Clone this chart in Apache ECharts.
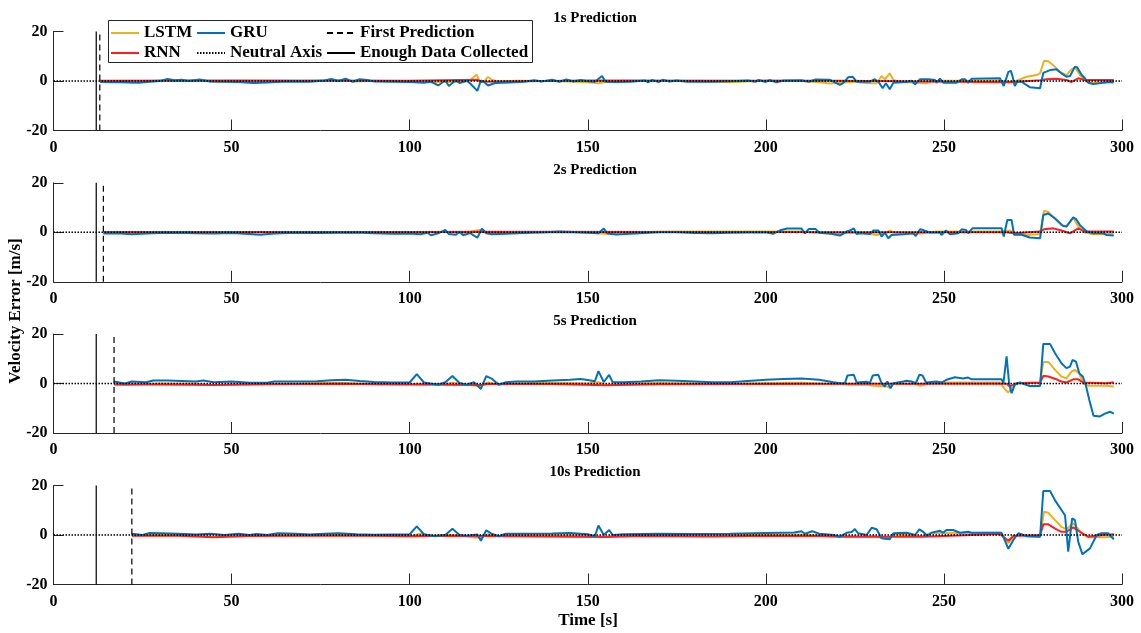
<!DOCTYPE html>
<html><head><meta charset="utf-8">
<script src="https://cdn.jsdelivr.net/npm/echarts@6/dist/echarts.min.js"></script>
<style>html,body{margin:0;padding:0;background:#fff}#c{width:1141px;height:633px}</style>
</head><body><div id="c"></div>
<script>
// ---------- DATA ----------
const panelTitles = ['1s Prediction','2s Prediction','5s Prediction','10s Prediction'];
const xTicks = [0,50,100,150,200,250,300];
const yTicks = [-20,0,20];
const enoughDataTime = 12;
const firstPredictionTimes = [13,14,17,22];

// Panel 1 (1s)
const lstm1 = [[13,-0.2],[18,-0.3],[22,-0.8],[25,-0.2],[30,0.2],[35,0],[40,0.3],[45,-0.3],[50,-0.2],[55,-0.4],[60,-0.2],[70,0],[80,0.3],[85,-0.2],[90,0.1],[100,-0.2],[105,-0.4],[110,-0.3],[115,-0.5],[117,0.3],[118.8,2.6],[119.8,-0.5],[121,0],[122,1.6],[123,0.5],[125,-0.2],[130,0.1],[140,0],[150,-0.5],[153,-0.9],[155,-0.4],[160,0.1],[170,0],[180,-0.1],[190,-0.5],[200,0.2],[210,0],[215,-0.5],[218,-1.0],
 [220.8,-0.7],[224.5,-0.3],[228.8,-0.9],[231.1,-0.9],[232.5,2.0],[233.4,0.7],[234.8,3.1],[235.8,0.4],[237.6,-0.3],[242.3,-0.7],[245.1,-0.9],[246.1,-0.3],[248.9,0.1],[265.7,0.1],[268.5,-0.3],[270.4,0.1],[273.2,1.7],[276,2.4],[277,3.1],[278.1,8.2],[279.3,8.0],[280.7,6.4],[282.6,3.7],[284.4,2.4],[285.8,4.7],[286.8,5.5],[288.2,2.4],[290.1,-0.3],[291.9,-0.7],[295.7,-0.3],[297.7,-0.9]];
const rnn1 = [[13,0.1],[50,0.2],[100,0.1],[119,0.5],[120,-0.3],[150,0.2],[200,0.1],[220.8,0.1],[268.5,-0.5],[277,0.3],[278.8,0.7],[281.6,0.9],[284.4,0.4],[285.8,-0.4],[287.7,1.1],[289.6,0.4],[297.7,0.4]];
const gru1 = [[13,-0.3],[16,-0.5],[20,-0.4],[24,-0.7],[27,-0.3],[30,0],[32,0.8],[34,0.3],[36,0.5],[38,0],[41,0.6],[44,-0.2],[48,-0.3],[52,-0.4],[56,-0.8],[60,-0.6],[64,-0.3],[68,-0.2],[72,-0.3],[76,0.2],[78,0.8],[80,0],[82,0.9],[84,-0.3],[86,0.7],[88,0.4],[90,-0.2],[95,-0.3],[100,-0.4],[104,-0.7],[106,-0.3],[108,-1.8],[110,0.2],[111,-2],[113,0.3],[114,-0.8],[116,0.2],[117,-1],[119,-4.0],[120,0.2],[121,-0.5],[122,-1.8],[124,-0.8],[128,-0.6],[132,-0.3],[135,0.3],[137,-0.2],[140,0.5],[142,-0.3],[144,0.6],[146,-0.2],[148,0.4],[150,-0.1],[152,-0.3],[154,2.0],[155,-0.3],[158,-0.4],[162,-0.3],[166,0.2],[167,-0.5],[168,0.4],[170,-0.4],[171,0.5],[173,-0.2],[175,0.2],[178,-0.3],[185,-0.3],[190,-0.1],[195,0.2],[197,-0.3],[198,0.4],[200,-0.4],[201,0.4],[203,-0.5],[205,0.2],[210,0.3],[212,-0.3],[214,0.6],[218,0.5],
 [220.8,-1.6],[221.7,-0.9],[223.1,1.5],[224.4,1.7],[225.5,-0.3],[229.2,-0.3],[230.6,0.7],[231.6,-0.3],[232.8,-2.9],[233.7,-0.9],[234.8,-3.3],[235.8,-0.7],[239.5,-0.4],[240.9,0.1],[241.9,-1.3],[243.3,0.7],[245.6,0.7],[247.5,0.4],[247.9,-0.7],[248.9,1.0],[249.8,-0.7],[253.6,-0.7],[255,0.7],[255.9,0.7],[256.8,-0.7],[257.8,0.9],[265.7,1.1],[266.2,0.4],[266.8,-2.0],[268.1,3.7],[268.8,4.1],[269.3,1.7],[269.9,-2.0],[270.6,-0.3],[271.8,-0.3],[274.1,-2.5],[277,-2.9],[277.9,3.3],[279.8,4.4],[281.6,4.7],[283,3.1],[284.4,1.7],[285.4,2.0],[286.8,5.8],[287.4,5.5],[288.7,2.4],[289.6,1.1],[290.5,-0.7],[291.9,-1.2],[294.7,-0.7],[297.7,-0.3]];

// Panel 2 (2s)
const lstm2 = [[14,-0.2],[30,0],[60,-0.1],[100,-0.2],[110,0.2],[115,-0.3],[120,1.0],[121.5,-0.5],[124,-0.3],[130,0],[150,-0.2],[155,-0.6],[158,-0.3],[170,0.2],[200,0.3],[210,0.3],[218,-0.6],
 [220.8,-0.7],[223.6,-0.1],[228.3,-0.4],[231.1,-1.1],[233.9,-0.1],[234.8,0.7],[236.2,-0.1],[241.4,-0.7],[244.2,-0.4],[248,0.3],[265.7,0.3],[268.5,0.7],[269.9,-0.1],[273.2,-1.1],[277,-0.7],[278.1,8.7],[279.3,8.2],[281.2,5.6],[283,2.9],[284.4,2.5],[286.3,5.8],[287.7,2.5],[289.6,-0.1],[291.9,-0.8],[295.7,-0.7],[297.7,-0.4]];
const rnn2 = [[14,0.1],[100,0.1],[120,0.2],[200,0.1],[220.8,0],[267.6,0],[269.5,-0.4],[277,0.3],[278.1,1.2],[280.7,1.6],[283,0.7],[285.4,-0.4],[287.7,1.6],[289.6,0.3],[297.7,0.3]];
const gru2 = [[14,-0.5],[18,-0.4],[22,-0.8],[26,-0.5],[30,-0.3],[35,-0.2],[40,-0.4],[45,-0.5],[50,-0.3],[55,-0.7],[58,-1.0],[62,-0.5],[66,-0.3],[70,-0.2],[75,-0.3],[80,-0.2],[85,-0.1],[90,-0.4],[95,-0.6],[100,-0.5],[103,-0.8],[105,-0.2],[106,-1.2],[108,-0.4],[110,1.0],[111,-0.7],[113,-1.0],[114,0.2],[115,-1.2],[117,-0.3],[119,-2.2],[120.3,1.5],[121.5,-0.3],[123,-0.8],[127,-0.6],[132,-0.3],[138,0],[142,0.3],[146,0.1],[150,-0.2],[153,-0.4],[154.5,1.5],[155.5,-0.5],[158,-0.9],[162,-0.6],[166,-0.3],[170,0],[175,0],[180,-0.3],[185,-0.4],[190,-0.2],[195,-0.1],[200,0],[202,-0.6],[204,0.8],[206,1.5],[210,1.5],[211,-0.4],[212,1.3],[214,1.3],[215,-0.2],[218,-0.5],
 [220.8,-1.3],[222.7,0.3],[223.6,0.7],[224.7,1.6],[225.5,-0.7],[226.4,-0.4],[229.2,-0.7],[230.2,0.7],[231.6,0.7],[232.5,-1.7],[233.4,-0.1],[234.4,-2.4],[235.3,-1.1],[238.6,-0.8],[241.4,-0.4],[242.1,-1.5],[243.3,1.2],[244.2,0.9],[246.1,-0.1],[248.9,-0.1],[249.3,-1.1],[250.6,0.7],[251.7,-0.8],[254,-0.4],[255,1.2],[256.2,0.9],[256.8,-0.4],[258,1.6],[266.2,1.6],[266.8,-1.7],[267.8,5.0],[269,5.0],[269.7,-1.0],[271.8,-1.0],[274.1,-2.1],[277,-2.4],[277.9,7.0],[279.3,7.6],[281.2,5.6],[283.5,2.5],[284.4,2.3],[286.3,6.0],[287.2,5.2],[288.2,2.9],[290.1,0.3],[291.9,-0.4],[294.7,-0.4],[295.7,-1.1],[297.7,-1.3]];

// Panel 3 (5s)
const lstm3 = [[17,-0.2],[20,-0.6],[25,-0.2],[30,0],[40,-0.1],[45,-0.6],[50,-0.3],[60,-0.2],[70,0],[80,0.3],[90,-0.3],[100,-0.3],[102,-0.1],[110,-0.3],[112,0.3],[115,-0.5],[120,-1.0],[122,0.5],[125,-0.5],[130,0],[140,0.3],[150,0],[153,0.5],[155,-0.5],[160,-0.2],[170,0.2],[180,0],[190,-0.2],[200,0.2],[210,0.3],[218,-0.3],
 [220.8,-0.3],[223.6,-0.5],[228.3,-0.5],[230.2,-0.9],[233.9,-1.2],[234.8,-1.6],[235.8,-0.1],[242.3,-0.3],[243.3,-0.9],[245.1,-0.3],[247.9,0.4],[265.7,0.4],[267.1,-2.3],[268.1,-3.6],[269,-1.9],[270.4,0.1],[277,0.4],[277.9,8.7],[279.3,8.7],[281.2,5.5],[283,2.8],[284.4,2.1],[285.8,4.8],[286.8,5.5],[288,4.1],[289.1,0.1],[290.5,-0.9],[295.7,-0.9],[297.7,-1.2]];
const rnn3 = [[17,-0.4],[30,-0.4],[45,-0.6],[60,-0.3],[80,-0.1],[100,-0.4],[120,-0.6],[122,-0.2],[140,-0.2],[155,-0.7],[170,-0.3],[200,-0.2],[220.8,-0.1],[267.6,-0.1],[268.5,-1.2],[270.4,0.1],[277,0.4],[277.9,3.1],[279.3,2.8],[281.6,1.7],[283,0.8],[284.4,0.4],[286.3,1.7],[287.7,1.7],[289.1,0.4],[295.7,0.1],[297.7,0.5]];
const gru3 = [[17,0.8],[20,0],[22,0.8],[26,0.5],[28,1.2],[32,1.2],[36,1],[40,0.8],[42,1.2],[45,0.5],[50,0.8],[55,0.3],[60,0.3],[62,0.8],[66,0.8],[70,0.8],[74,0.9],[78,1.3],[82,1.5],[86,1],[90,0.6],[95,0.4],[100,0.4],[102,3.8],[104,0.4],[108,-0.5],[110,0.5],[112,3.0],[114,0.2],[116,-0.5],[118,0.5],[120,-2.2],[121.5,3.0],[123,2.0],[125,-0.5],[127,0.5],[130,0.8],[135,0.8],[140,1.2],[145,1.5],[148,1.8],[150,1.4],[152,0.9],[153,5.0],[154.5,0.6],[156,3.5],[157,0.5],[160,0.5],[165,0.8],[170,1.3],[175,1.1],[180,0.8],[185,0.5],[190,0.5],[195,1.0],[200,1.5],[205,1.8],[210,2.0],[215,1.5],[219,0.5],
 [220.8,0.1],[222.2,0.1],[222.9,3.2],[224.7,3.5],[225.5,0.4],[228.3,0.7],[229.2,0.1],[230,3.2],[231.6,3.5],[232.5,0.1],[233.4,-1.2],[234.1,0.8],[235,-1.9],[235.8,0.1],[238.6,0.8],[239.5,1.1],[240.9,0.8],[242.1,0.1],[243.1,3.5],[244,3.2],[245,0.4],[247.9,0.8],[249.3,0.4],[250.7,1.5],[253.1,2.5],[255.4,2.0],[256.8,2.4],[257.8,1.7],[266.2,1.7],[266.7,0.1],[267.6,11],[268.3,0.1],[269,-3.9],[269.9,-0.5],[271.3,0.4],[274.1,-1],[277,-1],[277.9,16],[279.8,16],[281.2,12.2],[283,8.2],[284.4,6.2],[285.4,6.8],[286.1,9.5],[287.1,8.8],[288,4.1],[289,2.8],[289.9,-1],[290.8,-6.6],[292,-13],[293.8,-13.3],[295.2,-12.2],[296.6,-11.4],[297.7,-12.2]];

// Panel 4 (10s)
const lstm4 = [[22,-0.2],[30,0],[40,-0.2],[45,-0.6],[50,-0.2],[60,0],[70,-0.2],[80,0],[90,-0.3],[100,-0.5],[103,0.5],[106,-0.3],[112,0],[115,-0.5],[120,-1.2],[122,0.3],[125,-0.5],[130,-0.1],[150,-0.2],[155,-0.7],[160,-0.2],[175,0],[185,-0.3],[200,0.1],[210,0.2],[218,-0.4],
 [220.8,-0.7],[222.7,-0.4],[228.3,-0.7],[230.2,-0.4],[233,-1.3],[234.8,-1.3],[235.8,0.4],[242.3,-0.4],[244.2,-0.4],[246.1,0.7],[265.7,0.9],[268.1,-3.3],[269.5,-0.7],[271.3,0.4],[273.2,-0.7],[277,-0.7],[278.1,9.4],[279.3,9.0],[281.2,6.0],[283,3.3],[284.4,2.3],[286.3,4.7],[287.2,3.3],[288.7,0.7],[290.5,-0.9],[294.7,-0.9],[297.7,-0.7]];
const rnn4 = [[22,-0.3],[35,-0.3],[45,-0.9],[55,-0.4],[70,-0.3],[90,-0.3],[100,-0.5],[110,-0.3],[120,-0.4],[155,-0.8],[165,-0.4],[185,-0.6],[200,-0.3],[215,-0.4],[220.8,-0.7],[244.2,-0.7],[265.7,0.4],[268.1,-2.3],[269.5,-0.4],[277,0],[277.9,4.3],[279.3,4.3],[281.6,2.3],[283,1.3],[284.4,1.3],[286.3,3.1],[288.2,1.3],[290.5,-0.7],[294.7,0],[297.7,0.3]];
const gru4 = [[22,0.5],[25,0],[27,0.8],[30,0.7],[35,0.5],[40,0.2],[44,0.5],[48,0],[52,0.5],[55,0],[57,0.4],[60,0],[63,0.7],[68,0.5],[72,0.2],[76,0.5],[80,0.7],[85,0.3],[90,0.1],[95,0.2],[100,0.3],[102,3.5],[104,0.3],[107,-0.5],[110,0],[112,2.5],[114,0],[116,-0.3],[119,0.2],[120,-2.3],[121.5,1.9],[123,0.5],[125,-0.5],[127,0.5],[130,0.5],[140,0.6],[145,0.8],[150,0.3],[152,-0.5],[153,3.8],[154.5,0],[156,2.0],[157,0],[160,0.3],[170,0.5],[180,0.4],[190,0.5],[200,0.8],[208,1.0],[210,1.5],[211,0.5],[213,1.5],[215,0.5],[219,0],
 [220.8,-0.7],[222.7,0.9],[224.1,1.2],[225,2.4],[225.9,0.7],[228.3,0],[229.7,2.9],[231.1,2.3],[232.5,-1.3],[234.8,-1.7],[235.8,0.7],[239.5,0.9],[241.9,0],[243.1,2.3],[244.2,1.3],[245.3,-0.4],[246.5,0.9],[248.9,1.7],[249.8,0.9],[250.7,2.0],[252.6,2.0],[254.5,0.9],[256.8,1.3],[257.8,0.9],[266.2,0.9],[268.1,-5.6],[269.5,-2],[270.9,0.7],[273.2,-0.4],[277,-0.7],[277.9,17.8],[279.8,17.8],[281.2,14],[284,8],[284.9,-6.7],[286,6.7],[286.8,6],[287.7,-2.7],[288.9,-7.8],[291,-5.4],[292.9,0],[294.3,0.7],[296.1,0.7],[297.7,-1.7]];

const lstmData = [lstm1,lstm2,lstm3,lstm4];
const rnnData = [rnn1,rnn2,rnn3,rnn4];
const gruData = [gru1,gru2,gru3,gru4];
const neutralAxis = [[0,0],[300,0]];

// ---------- CHART ----------
const FONT = '"Liberation Serif","Times New Roman",serif';
const AX = '#262626';
const COL = {LSTM:'#EDB120', RNN:'#FF1F1F', GRU:'#0072BD'};
const gridTop = [31.5,182.8,334,485.5];
const gridH = 99;

const grids=[], xAxes=[], yAxes=[], series=[], titles=[];
for (let i=0;i<4;i++){
  grids.push({left:53.5, right:19, top:gridTop[i], height:gridH});
  xAxes.push({gridIndex:i, type:'value', min:xTicks[0], max:xTicks[xTicks.length-1], interval:50,
    axisLine:{show:true, onZero:false, lineStyle:{color:AX,width:1}},
    axisTick:{show:true, inside:true, length:11, lineStyle:{color:AX,width:1}},
    axisLabel:{show:true, margin:9, color:'#000', fontFamily:FONT, fontWeight:'bold', fontSize:16},
    splitLine:{show:false}});
  yAxes.push({gridIndex:i, type:'value', min:yTicks[0], max:yTicks[yTicks.length-1], interval:20,
    axisLine:{show:true, onZero:false, lineStyle:{color:AX,width:1}},
    axisTick:{show:true, inside:true, length:10, lineStyle:{color:AX,width:1}},
    axisLabel:{show:true, margin:6, color:'#000', fontFamily:FONT, fontWeight:'bold', fontSize:16},
    splitLine:{show:false}});
  titles.push({text:panelTitles[i], left:595, top:gridTop[i]-20.5, textAlign:'center', padding:0,
    textStyle:{fontFamily:FONT, fontWeight:'bold', fontSize:15, color:'#000'}});
  const base = {xAxisIndex:i, yAxisIndex:i, type:'line', showSymbol:false, symbol:'none', animation:false, silent:true};
  series.push(Object.assign({}, base, {name:'LSTM', data:lstmData[i], z:2, lineStyle:{color:COL.LSTM,width:2}, itemStyle:{color:COL.LSTM}}));
  series.push(Object.assign({}, base, {name:'RNN', data:rnnData[i], z:3, lineStyle:{color:COL.RNN,width:2}, itemStyle:{color:COL.RNN}}));
  series.push(Object.assign({}, base, {name:'GRU', data:gruData[i], z:4, lineStyle:{color:COL.GRU,width:2}, itemStyle:{color:COL.GRU}}));
  series.push(Object.assign({}, base, {name:'Neutral Axis', data:neutralAxis, z:5, lineStyle:{color:'#000',width:1.5,type:[1.5,1.5]}, itemStyle:{color:'#000'}}));
  series.push(Object.assign({}, base, {name:'First Prediction', data:[[firstPredictionTimes[i],-20],[firstPredictionTimes[i],20]], z:5, lineStyle:{color:'#000',width:1.2,type:[6,4]}, itemStyle:{color:'#000'}}));
  series.push(Object.assign({}, base, {name:'Enough Data Collected', data:[[enoughDataTime,-20],[enoughDataTime,20]], z:5, lineStyle:{color:'#000',width:1.2}, itemStyle:{color:'#000'}}));
}

const legendCommon = {orient:'vertical', top:24, padding:0, itemWidth:28, itemHeight:14, itemGap:2, selectedMode:false, z:10,
  itemStyle:{opacity:0, borderWidth:0},
  textStyle:{fontFamily:FONT, fontWeight:'bold', fontSize:17, color:'#000', lineHeight:18}};

const chart = echarts.init(document.getElementById('c'), null, {renderer:'canvas'});
chart.setOption({
  animation:false,
  backgroundColor:'#fff',
  title:titles,
  grid:grids, xAxis:xAxes, yAxis:yAxes, series:series,
  legend:[
    Object.assign({}, legendCommon, {left:110, data:['LSTM','RNN']}),
    Object.assign({}, legendCommon, {left:196, data:['GRU','Neutral Axis']}),
    Object.assign({}, legendCommon, {left:326, data:['First Prediction','Enough Data Collected']})
  ],
  graphic:[
    {type:'rect', z:5, shape:{x:108.5, y:20.5, width:424, height:42}, style:{fill:'#fff', stroke:AX, lineWidth:1}},
    {type:'text', z:10, x:16, y:311, rotation:Math.PI/2, style:{text:'Velocity Error [m/s]', fill:'#000', font:'bold 17px '+FONT, textAlign:'center', textVerticalAlign:'middle'}},
    {type:'text', z:10, x:588, y:621, style:{text:'Time [s]', fill:'#000', font:'bold 17px '+FONT, textAlign:'center', textVerticalAlign:'middle'}}
  ]
});
</script></body></html>
